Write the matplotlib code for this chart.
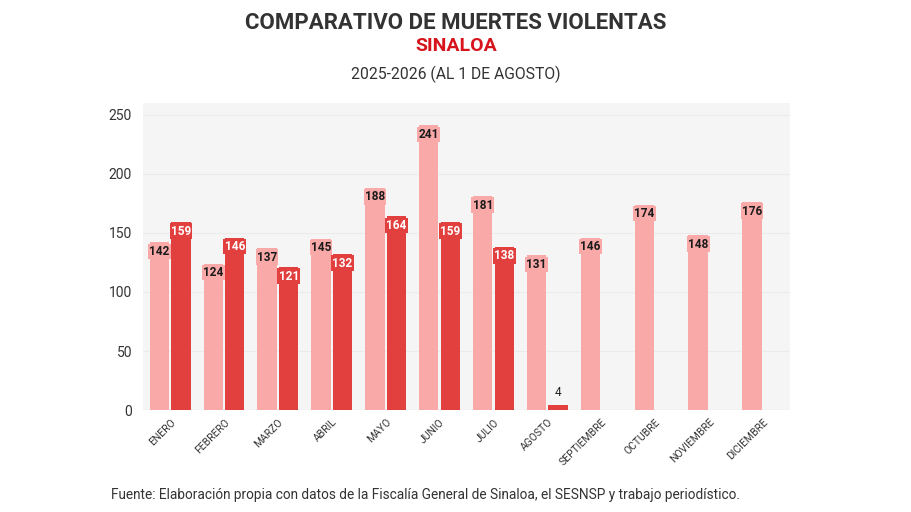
import numpy as np
import matplotlib
matplotlib.use('Agg')
import matplotlib.pyplot as plt

plt.rcParams['font.family'] = ['Roboto', 'DejaVu Sans']

# Data
months = ['ENERO', 'FEBRERO', 'MARZO', 'ABRIL', 'MAYO', 'JUNIO', 'JULIO',
          'AGOSTO', 'SEPTIEMBRE', 'OCTUBRE', 'NOVIEMBRE', 'DICIEMBRE']
deaths_2025 = [142, 124, 137, 145, 188, 241, 181, 131, 146, 174, 148, 176]
deaths_2026 = [159, 146, 121, 132, 164, 159, 138, 4]

light = '#f9a9a8'
dark = '#e2403f'

fig = plt.figure(figsize=(9.12, 5.12), dpi=100)
ax = fig.add_axes([0.157, 0.199, 0.709, 0.600])
ax.set_facecolor('#f5f5f5')

x = np.arange(len(months))
w = 0.36
ax.bar(x - 0.2, deaths_2025, width=w, color=light, zorder=2)
x2 = np.arange(len(deaths_2026))
ax.bar(x2 + 0.2, deaths_2026, width=w, color=dark, zorder=2)

# value labels
for xi, v in zip(x, deaths_2025):
    ax.text(xi - 0.2, v - 2, str(v), ha='center', va='top', fontsize=8.5,
            fontweight='bold', color='#1a1a1a', zorder=3,
            bbox=dict(boxstyle='square,pad=0.1', fc=light, ec='none'))
for xi, v in zip(x2, deaths_2026):
    if v < 20:
        ax.text(xi + 0.2, v + 5, str(v), ha='center', va='bottom', fontsize=8.5,
                color='#222222', zorder=3)
    else:
        ax.text(xi + 0.2, v - 2, str(v), ha='center', va='top', fontsize=8.5,
                fontweight='bold', color='white', zorder=3,
                bbox=dict(boxstyle='square,pad=0.1', fc=dark, ec='none'))

ax.set_xlim(-0.5, 11.5)
ax.set_ylim(0, 260)
ax.set_yticks([0, 50, 100, 150, 200, 250])
ax.yaxis.grid(True, color='#ebebeb', linewidth=0.8, zorder=0)
ax.set_axisbelow(True)
ax.set_xticks(x)
ax.set_xticklabels(months, rotation=45, ha='right', rotation_mode='anchor',
                   fontsize=7.5, color='#333333')
ax.tick_params(axis='y', labelsize=10, colors='#333333', length=0, pad=8)
ax.tick_params(axis='x', length=0, pad=5)
for s in ax.spines.values():
    s.set_visible(False)
ax.axhline(0, color='#dddddd', linewidth=0.8, zorder=1)

fig.text(0.5, 0.955, 'COMPARATIVO DE MUERTES VIOLENTAS', ha='center', va='center',
         fontsize=16, fontweight='bold', color='#333333')
fig.text(0.5, 0.91, 'SINALOA', ha='center', va='center',
         fontsize=14, fontweight='bold', color='#d7141c')
fig.text(0.5, 0.855, '2025-2026 (AL 1 DE AGOSTO)', ha='center', va='center',
         fontsize=11.3, color='#333333')
fig.text(0.122, 0.033, 'Fuente: Elaboración propia con datos de la Fiscalía General de Sinaloa, '
         'el SESNSP y trabajo periodístico.', ha='left', va='center',
         fontsize=9.8, color='#333333')

fig.savefig('out.png', dpi=100, facecolor='white')
